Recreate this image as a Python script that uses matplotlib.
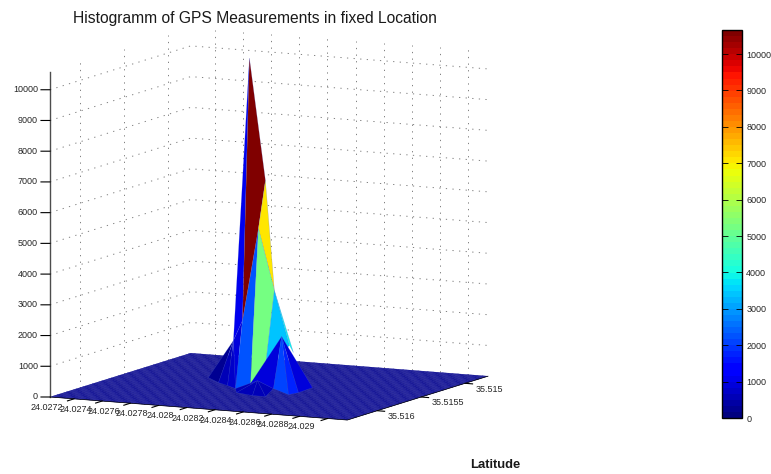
import numpy as np
import matplotlib
matplotlib.use('Agg')
import matplotlib.pyplot as plt
from matplotlib.cm import ScalarMappable
from matplotlib.colors import Normalize
from mpl_toolkits.mplot3d import proj3d
from mpl_toolkits.mplot3d.art3d import Poly3DCollection

plt.rcParams['font.family'] = ['Liberation Sans', 'DejaVu Sans']

lon_ticks = [24.0272, 24.0274, 24.0276, 24.0278, 24.028, 24.0282, 24.0284, 24.0286, 24.0288, 24.029]
lon_labels = ['24.0272', '24.0274', '24.0276', '24.0278', '24.028', '24.0282', '24.0284', '24.0286', '24.0288', '24.029']
lat_ticks = [35.515, 35.5155, 35.516]
lat_labels = ['35.515', '35.5155', '35.516']
z_ticks = [0, 1000, 2000, 3000, 4000, 5000, 6000, 7000, 8000, 9000, 10000]

lon_min, lon_max = 24.02703, 24.02914
lat_min, lat_max = 35.51474, 35.51634
z_max = 10590
c_max = 10660

# points of the peak: longitude, latitude, count
peak_lon = {'A1': 24.027564, 'A2': 24.027713, 'A3': 24.027819, 'A4': 24.027919, 'B': 24.027913,
            'C': 24.028330, 'D': 24.028350, 'E': 24.028339, 'F': 24.028135, 'I0': 24.027997,
            'I1': 24.028143, 'I2': 24.028235, 'P': 24.027907, 'R': 24.027880, 'G': 24.027931,
            'T': 24.028031, 'L': 24.028118, 'U': 24.028040, 'V': 24.028230, 'W': 24.028281,
            'W2': 24.028263, 'Q': 24.028296, 'H': 24.028066}
peak_lat = {'A1': 35.515401, 'A2': 35.515524, 'A3': 35.515591, 'A4': 35.515660, 'B': 35.515481,
            'C': 35.515716, 'D': 35.515635, 'E': 35.515458, 'F': 35.515575, 'I0': 35.515775,
            'I1': 35.515826, 'I2': 35.515826, 'P': 35.515483, 'R': 35.515258, 'G': 35.515419,
            'T': 35.515398, 'L': 35.515900, 'U': 35.515878, 'V': 35.515817, 'W': 35.515626,
            'W2': 35.515553, 'Q': 35.515740, 'H': 35.515646}
peak_z = {'A1': 0, 'A2': 0, 'A3': 0, 'A4': 0, 'B': 0, 'C': 0, 'D': 0, 'E': 0, 'F': 0, 'I0': 0,
          'I1': 0, 'I2': 0, 'P': 10590, 'R': 6400, 'G': 5000, 'T': 3000, 'L': 2500, 'U': 1800,
          'V': 1000, 'W': 1500, 'W2': 1200, 'Q': 1900, 'H': 300}

# facets back to front, with the count that gives their colour
facets = [['P', 'U', 'L'], ['U', 'A1', 'A2'], ['U', 'A2', 'A3'], ['U', 'A3', 'A4'], ['U', 'L', 'A4'],
          ['G', 'L', 'A4', 'B'], ['P', 'R', 'G', 'L'], ['R', 'T', 'G'], ['G', 'T', 'V', 'B'], ['T', 'W', 'V'],
          ['T', 'W2', 'W'],
          ['I0', 'H', 'I1'], ['I1', 'H', 'I2'], ['I2', 'H', 'F'], ['A4', 'H', 'I0'],
          ['Q', 'B', 'H', 'F'], ['Q', 'F', 'C'], ['Q', 'C', 'D'], ['Q', 'D', 'E']]
facet_counts = [1165, 300, 500, 800, 950,
                2300, 10660, 7000, 5300, 3400,
                3900,
                640, 500, 640, 500,
                850, 2100, 1700, 850]

fig = plt.figure(figsize=(7.71, 4.74), dpi=100)
ax = fig.add_axes([0.03, 0, 0.94, 1], projection='3d', computed_zorder=False)
ax.set_proj_type('ortho')
ax.view_init(elev=8.94, azim=-63.5)
ax.set_xticks([])
ax.set_yticks([])
ax.set_zticks([])
ax.set_xlim(lon_min, lon_max, view_margin=0)
ax.set_ylim(lat_max, lat_min, view_margin=0)
ax.set_zlim(0, z_max, view_margin=0)
ax.set_axis_off()
box = (331.8, 315, 329)
ax.set_box_aspect(box)


def to_px(x, y, z):
    px, py, _ = proj3d.proj_transform(x, y, z, ax.get_proj())
    return ax.transData.transform((px, py))


def label(x, y, z, s, ha):
    px, py = to_px(x, y, z)
    fig.text(px / 771, py / 474, s, fontsize=6.5, ha=ha, va='center', color='0.15')


# fit the box onto the reference pixels (figure y counted from the bottom)
fig.canvas.draw()
w = to_px(lon_max, lat_min, 0)[0] - to_px(lon_min, lat_max, 0)[0]
ax.set_box_aspect(box, zoom=438 / w)
fig.canvas.draw()
o = to_px(lon_min, lat_max, 0)
pos = ax.get_position(original=True)
ax.set_position([pos.x0 + (50 - o[0]) / 771, pos.y0 + (474 - 397 - o[1]) / 474, pos.width, pos.height])
fig.canvas.draw()

cmap = plt.get_cmap('jet', 64)
norm = Normalize(0, c_max)
dlon = lon_max - lon_min
dlat = lat_max - lat_min

grid_color = '0.5'
dots = (0, (1.3, 5.5))
for t in lon_ticks:
    ax.plot([t, t], [lat_min, lat_min], [0, z_max], color=grid_color, ls=dots, lw=0.7, zorder=1)
for t in lat_ticks:
    ax.plot([lon_min, lon_min], [t, t], [0, z_max], color=grid_color, ls=dots, lw=0.7, zorder=1)
for t in z_ticks[1:]:
    ax.plot([lon_min, lon_min, lon_max], [lat_max, lat_min, lat_min], [t, t, t],
            color=grid_color, ls=dots, lw=0.7, zorder=1)

# flat part of the histogram
floor_lon, floor_lat = np.meshgrid(np.linspace(lon_min, lon_max, 61), np.linspace(lat_min, lat_max, 61))
floor_z = np.zeros_like(floor_lon)
ax.plot_surface(floor_lon, floor_lat, floor_z, rstride=1, cstride=1, color=cmap(norm(0)),
                edgecolor=(0.15, 0.15, 0.66), linewidth=0.2, shade=False, zorder=2)

for i, (names, count) in enumerate(zip(facets, facet_counts)):
    verts = [[(peak_lon[n], peak_lat[n], peak_z[n]) for n in names]]
    ax.add_collection3d(Poly3DCollection(verts, facecolors=[cmap(norm(count))],
                                         edgecolors=(0.3, 0.4, 0.85, 0.4), linewidths=0.3, zorder=3 + i))

# axis lines, ticks and labels
top = 30
ax.plot([lon_min, lon_min], [lat_max, lat_max], [0, z_max], color='0.3', lw=1, zorder=top)
ax.plot([lon_min, lon_max, lon_max], [lat_max, lat_max, lat_min], [0, 0, 0], color='k', lw=0.5, zorder=top)
for t in z_ticks:
    ax.plot([lon_min, lon_min - 0.0243 * dlon], [lat_max, lat_max + 0.0127 * dlat], [t, t], color='k', lw=0.8, zorder=top)
    label(lon_min - 0.0324 * dlon, lat_max + 0.0169 * dlat, t, str(t), 'right')
for t, s in zip(lon_ticks, lon_labels):
    ax.plot([t, t], [lat_max, lat_max + 0.046 * dlat], [0, 0], color='k', lw=0.8, zorder=top)
    label(t, lat_max + 0.19 * dlat, 0, s, 'center')
for t, s in zip(lat_ticks, lat_labels):
    ax.plot([lon_max, lon_max + 0.025 * dlon], [t, t], [0, 0], color='k', lw=0.8, zorder=top)
    label(lon_max + 0.0788 * dlon, t + 0.0951 * dlat, 0, s, 'left')

cax = fig.add_axes([722 / 771, (474 - 418) / 474, 20 / 771, 388 / 474])
cb = fig.colorbar(ScalarMappable(norm=norm, cmap=cmap), cax=cax, ticks=z_ticks)
cb.outline.set_linewidth(1)
cax.tick_params(axis='y', direction='in', length=4, width=0.6, left=True, right=True, labelsize=6.5, pad=3,
                labelcolor='0.15')

fig.text(255 / 771, 1 - 18 / 474, 'Histogramm of GPS Measurements in fixed Location', fontsize=11.25,
         ha='center', va='center', color='0.1')
fig.text(495 / 771, 1 - 465 / 474, 'Latitude', fontsize=9.4, fontweight='bold', ha='center', va='center', color='0.1')

fig.savefig('out.png', dpi=100)
